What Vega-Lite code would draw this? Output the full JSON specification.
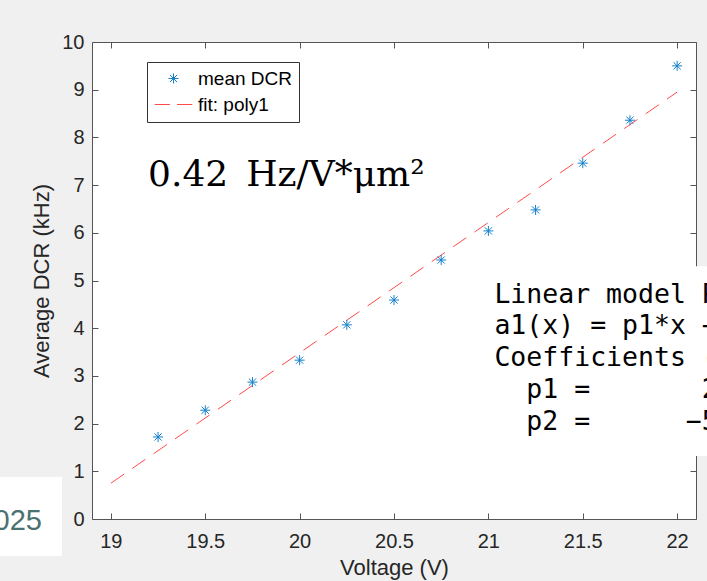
{
  "$schema": "https://vega.github.io/schema/vega-lite/v6.json",
  "width": 604,
  "height": 477,
  "autosize": {"type": "none"},
  "padding": {"left": 92, "top": 42, "right": 11, "bottom": 62},
  "background": "#f0f0f0",
  "config": {
    "view": {"fill": "white", "stroke": null},
    "font": "Liberation Sans",
    "axis": {
      "grid": false,
      "domainColor": "#555555",
      "tickColor": "#555555",
      "tickSize": -6,
      "labelColor": "#262626",
      "titleColor": "#262626",
      "labelFontSize": 20,
      "titleFontSize": 22,
      "titleFontWeight": "normal",
      "labelFont": "Liberation Sans",
      "titleFont": "Liberation Sans"
    },
    "legend": {
      "orient": "none",
      "legendX": 55,
      "legendY": 20,
      "strokeColor": "#333333",
      "fillColor": "white",
      "padding": 7,
      "labelFontSize": 19,
      "labelColor": "#000000",
      "labelFont": "Liberation Sans",
      "symbolSize": 256,
      "symbolStrokeWidth": 1,
      "symbolOffset": 10,
      "labelOffset": 15,
      "rowPadding": 6,
      "title": null
    }
  },
  "datasets": {
    "dcr": [
      {"voltage": 19.25, "dcr": 1.72, "series": "mean DCR"},
      {"voltage": 19.5, "dcr": 2.28, "series": "mean DCR"},
      {"voltage": 19.75, "dcr": 2.87, "series": "mean DCR"},
      {"voltage": 20.0, "dcr": 3.33, "series": "mean DCR"},
      {"voltage": 20.25, "dcr": 4.07, "series": "mean DCR"},
      {"voltage": 20.5, "dcr": 4.59, "series": "mean DCR"},
      {"voltage": 20.75, "dcr": 5.43, "series": "mean DCR"},
      {"voltage": 21.0, "dcr": 6.04, "series": "mean DCR"},
      {"voltage": 21.25, "dcr": 6.48, "series": "mean DCR"},
      {"voltage": 21.5, "dcr": 7.46, "series": "mean DCR"},
      {"voltage": 21.75, "dcr": 8.36, "series": "mean DCR"},
      {"voltage": 22.0, "dcr": 9.5, "series": "mean DCR"}
    ],
    "fit": [
      {"voltage": 19.0, "dcr": 0.75, "series": "fit: poly1"},
      {"voltage": 22.0, "dcr": 8.95, "series": "fit: poly1"}
    ],
    "one": [{}]
  },
  "resolve": {"axis": {"x": "independent", "y": "independent"}},
  "layer": [
    {
      "data": {"name": "fit"},
      "mark": {"type": "line", "strokeDash": [16, 10], "strokeWidth": 1},
      "encoding": {
        "x": {
          "field": "voltage", "type": "quantitative",
          "scale": {"domain": [18.9, 22.1], "nice": false, "zero": false},
          "axis": {"orient": "bottom", "values": [19, 19.5, 20, 20.5, 21, 21.5, 22], "format": "~g", "title": "Voltage (V)", "labelPadding": 18, "titlePadding": 6, "labelFlush": false}
        },
        "y": {
          "field": "dcr", "type": "quantitative",
          "scale": {"domain": [0, 10], "nice": false, "zero": false},
          "axis": {"orient": "left", "values": [0, 1, 2, 3, 4, 5, 6, 7, 8, 9, 10], "title": "Average DCR (kHz)", "labelPadding": 14, "titlePadding": 8, "labelFlush": false}
        },
        "color": {
          "field": "series", "type": "nominal",
          "scale": {"domain": ["mean DCR", "fit: poly1"], "range": ["#1580CC", "#FF4A4A"]},
          "legend": {"title": null}
        }
      }
    },
    {
      "data": {"name": "dcr"},
      "mark": {"type": "point", "filled": false, "strokeWidth": 1, "size": 256, "opacity": 1},
      "encoding": {
        "x": {
          "field": "voltage", "type": "quantitative",
          "axis": {"orient": "top", "values": [19, 19.5, 20, 20.5, 21, 21.5, 22], "labels": false, "title": null}
        },
        "y": {
          "field": "dcr", "type": "quantitative",
          "axis": {"orient": "right", "values": [0, 1, 2, 3, 4, 5, 6, 7, 8, 9, 10], "labels": false, "title": null}
        },
        "color": {"field": "series", "type": "nominal", "legend": {"title": null}},
        "shape": {
          "field": "series", "type": "nominal",
          "scale": {
            "domain": ["mean DCR", "fit: poly1"],
            "range": [
              "M-0.625,0L0.625,0M0,-0.625L0,0.625M-0.45,-0.45L0.45,0.45M-0.45,0.45L0.45,-0.45",
              "M-2.35,0L-0.45,0M0.45,0L2.35,0"
            ]
          },
          "legend": {"title": null}
        }
      }
    },
    {
      "data": {"name": "one"},
      "mark": {"type": "rect", "fill": "white", "clip": false},
      "encoding": {
        "x": {"datum": 20.98, "type": "quantitative", "axis": null},
        "x2": {"datum": 22.4},
        "y": {"datum": 5.3, "type": "quantitative", "axis": null},
        "y2": {"datum": 1.32}
      }
    },
    {
      "data": {"name": "one"},
      "mark": {"type": "text", "font": "DejaVu Sans Mono", "fontSize": 26.5, "lineBreak": "\n", "lineHeight": 31.8, "align": "left", "baseline": "alphabetic", "color": "#000000"},
      "encoding": {
        "x": {"datum": 21.032, "type": "quantitative", "axis": null},
        "y": {"datum": 4.535, "type": "quantitative", "axis": null},
        "text": {"value": "Linear model Poly1:\na1(x) = p1*x + p2\nCoefficients (with 95% confidence bounds):\n\u200b\u00a0\u00a0p1 =\u00a0\u00a0\u00a0\u00a0\u00a0\u00a0\u00a02.733\u00a0\u00a0(2.525, 2.941)\n\u200b\u00a0\u00a0p2 =\u00a0\u00a0\u00a0\u00a0\u00a0\u00a0\u221251.18\u00a0\u00a0(\u221255.52, \u221246.84)"}
      }
    },
    {
      "data": {"name": "one"},
      "mark": {"type": "text", "font": "DejaVu Serif", "fontSize": 36, "align": "left", "baseline": "alphabetic", "color": "#000000"},
      "encoding": {
        "x": {"datum": 19.197, "type": "quantitative", "axis": null},
        "y": {"datum": 6.98, "type": "quantitative", "axis": null},
        "text": {"value": "0.42\u2002Hz/V*\u03bcm\u00b2"}
      }
    },
    {
      "data": {"name": "one"},
      "mark": {"type": "rect", "fill": "white", "clip": false},
      "encoding": {
        "x": {"datum": 18.3, "type": "quantitative", "axis": null},
        "x2": {"datum": 18.741},
        "y": {"datum": 0.881, "type": "quantitative", "axis": null},
        "y2": {"datum": -0.776}
      }
    },
    {
      "data": {"name": "one"},
      "mark": {"type": "text", "font": "Liberation Sans", "fontSize": 29, "align": "right", "baseline": "alphabetic", "color": "#4b7171"},
      "encoding": {
        "x": {"datum": 18.635, "type": "quantitative", "axis": null},
        "y": {"datum": -0.231, "type": "quantitative", "axis": null},
        "text": {"value": "2025"}
      }
    }
  ]
}
